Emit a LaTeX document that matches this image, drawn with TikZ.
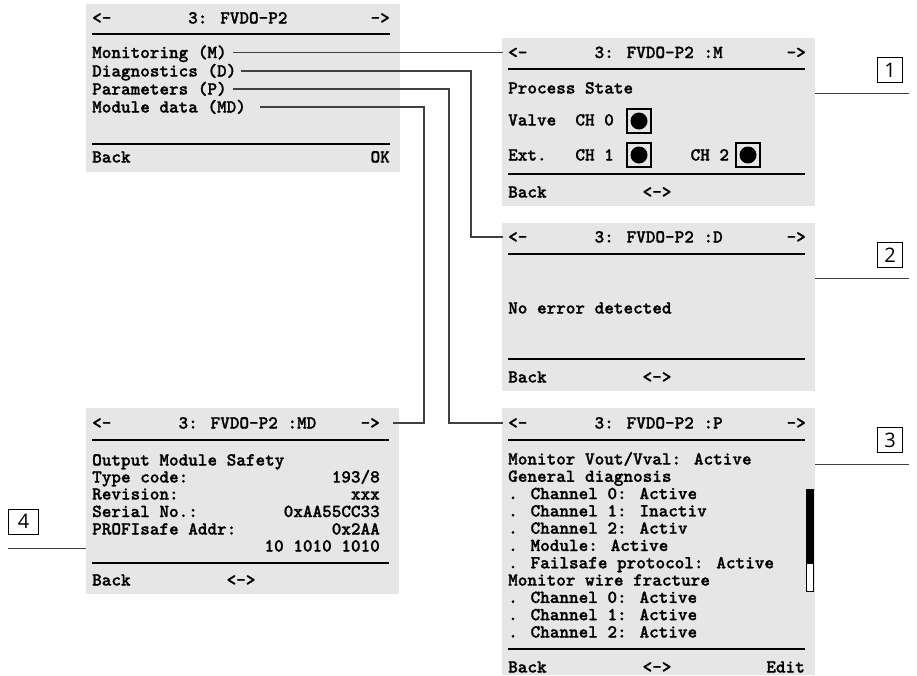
\documentclass[tikz,border=0pt]{standalone}
\usepackage{fontspec}
\newfontfamily\numfont{Open Sans}
\IfFontExistsTF{lmmonolt10-bold.otf}
  {\newfontfamily\lcdfont{lmmonolt10-bold.otf}[FakeBold=1.2]}
  {\newfontfamily\lcdfont{Latin Modern Mono}[FakeBold=2]}
\newcommand\curfont{\lcdfont\fontsize{18.3}{18.3}\selectfont}
\definecolor{scrgray}{HTML}{E6E6E6}
\definecolor{conncol}{HTML}{404040}
\begin{document}
\begin{tikzpicture}[x=1pt,y=-1pt,
  scr/.style={fill=scrgray, draw=none},
  txt/.style={font=\curfont, inner sep=0pt, anchor=base west, yshift=-5.5pt},
  rtxt/.style={txt, anchor=base east},
  sep/.style={line width=1.5pt},
  conn/.style={line width=1.1pt, draw=conncol},
  cline/.style={line width=1pt, draw=conncol},
  chk/.style={draw, line width=1.2pt, minimum size=24pt, inner sep=0pt,
    path picture={\fill (path picture bounding box.center) circle (8.5pt);}},
  callbox/.style={draw, line width=0.9pt, minimum width=25pt, minimum height=25pt, inner sep=0pt,
    font=\numfont\fontsize{20}{20}\selectfont}]
\useasboundingbox (0,0) rectangle (917,675);

% ---------- main menu ----------
\fill[scr] (86,4) rectangle (400,172);
\node[txt] (tl-l) at (92,18) {<-};
\node[txt] (tl-t) at (188,18) {3: FVDO-P2};
\node[rtxt] (tl-r) at (390,18) {->};
\draw[sep] (92,34) -- (390,34);
\node[txt] (mon) at (92,52.5) {Monitoring (M)};
\node[txt] (dia) at (92,71) {Diagnostics (D)};
\node[txt] (par) at (92,89) {Parameters (P)};
\node[txt] (mod) at (92,107) {Module data (MD)};
\draw[sep] (92,144) -- (390,144);
\node[txt] (tl-back) at (92,157) {Back};
\node[rtxt] (tl-ok) at (390,157) {OK};

% ---------- M screen ----------
\fill[scr] (502,38) rectangle (815,206);
\node[txt] (m-l) at (508,52.5) {<-};
\node[txt] (m-t) at (594.4,52.5) {3: FVDO-P2 :M};
\node[rtxt] (m-r) at (806,52.5) {->};
\draw[sep] (508,69) -- (805,69);
\node[txt] (m-ps) at (508,88) {Process State};
\node[txt] (m-valve) at (508,120) {Valve};
\node[txt] (m-ch0) at (575.2,120) {CH 0};
\node[chk] (m-b0) at (639,121) {};
\node[txt] (m-ext) at (508,155) {Ext.};
\node[txt] (m-ch1) at (575.2,155) {CH 1};
\node[chk] (m-b1) at (639,155) {};
\node[txt] (m-ch2) at (690.4,155) {CH 2};
\node[chk] (m-b2) at (748,155) {};
\draw[sep] (508,174) -- (805,174);
\node[txt] (m-back) at (508,192) {Back};
\node[txt] (m-nav) at (642.4,192) {<->};

% ---------- D screen ----------
\fill[scr] (502,223) rectangle (815,391);
\node[txt] (d-l) at (508,237) {<-};
\node[txt] (d-t) at (594.4,237) {3: FVDO-P2 :D};
\node[rtxt] (d-r) at (806,237) {->};
\draw[sep] (508,254) -- (805,254);
\node[txt] (d-msg) at (508,308) {No error detected};
\draw[sep] (508,359) -- (805,359);
\node[txt] (d-back) at (508,377) {Back};
\node[txt] (d-nav) at (642.4,377) {<->};

% ---------- MD screen ----------
\fill[scr] (86,408) rectangle (399,594);
\node[txt] (md-l) at (92,423) {<-};
\node[txt] (md-t) at (178.4,423) {3: FVDO-P2 :MD};
\node[rtxt] (md-r) at (380,423) {->};
\draw[sep] (92,440) -- (389,440);
\node[txt] (md-1) at (92,460) {Output Module Safety};
\node[txt] (md-2) at (92,477) {Type code:};
\node[rtxt] (md-2v) at (380,477) {193/8};
\node[txt] (md-3) at (92,494) {Revision:};
\node[rtxt] (md-3v) at (380,494) {xxx};
\node[txt] (md-4) at (92,511.5) {Serial No.:};
\node[rtxt] (md-4v) at (380,511.5) {0xAA55CC33};
\node[txt] (md-5) at (92,529) {PROFIsafe Addr:};
\node[rtxt] (md-5v) at (380,529) {0x2AA};
\node[rtxt] (md-6v) at (380,546) {10 1010 1010};
\draw[sep] (92,563) -- (389,563);
\node[txt] (md-back) at (92,580) {Back};
\node[txt] (md-nav) at (226.4,580) {<->};

% ---------- P screen ----------
\fill[scr] (502,408) rectangle (815,675);
\node[txt] (p-l) at (508,423) {<-};
\node[txt] (p-t) at (594.4,423) {3: FVDO-P2 :P};
\node[rtxt] (p-r) at (806,423) {->};
\draw[sep] (508,440) -- (805,440);
\node[txt] (p-1) at (508,459) {Monitor Vout/Vval: Active};
\node[txt] (p-2) at (508,476.3) {General diagnosis};
\node[txt] (p-3) at (508,493.6) {. Channel 0: Active};
\node[txt] (p-4) at (508,510.9) {. Channel 1: Inactiv};
\node[txt] (p-5) at (508,528.2) {. Channel 2: Activ};
\node[txt] (p-6) at (508,545.5) {. Module: Active};
\node[txt] (p-7) at (508,562.8) {. Failsafe protocol: Active};
\node[txt] (p-8) at (508,580.1) {Monitor wire fracture};
\node[txt] (p-9) at (508,597.4) {. Channel 0: Active};
\node[txt] (p-10) at (508,614.7) {. Channel 1: Active};
\node[txt] (p-11) at (508,632) {. Channel 2: Active};
\draw[sep] (508,649) -- (805,649);
\node[txt] (p-back) at (508,667) {Back};
\node[txt] (p-nav) at (642.4,667) {<->};
\node[rtxt] (p-edit) at (805,667) {Edit};
% scroll bar
\draw[line width=1pt, fill=white] (806.5,489) rectangle (813.5,591.5);
\fill (806,489) rectangle (814,564);

% ---------- connectors ----------
\coordinate (dv) at (471,0);
\coordinate (pv) at (449,0);
\coordinate (mdv) at (424,0);
\coordinate (mon-e) at (233,52.5);
\coordinate (dia-e) at (241,71);
\coordinate (par-e) at (233,89);
\coordinate (mod-e) at (260,107);
\coordinate (m-in) at (503,52.5);
\coordinate (d-in) at (503,237);
\coordinate (p-in) at (503,423);
\coordinate (md-in) at (393,423);
\draw[conn] (mon-e) -- (m-in);
\draw[conn] (dia-e) -| (dv |- d-in) -- (d-in);
\draw[conn] (par-e) -| (pv |- p-in) -- (p-in);
\draw[conn] (mod-e) -| (mdv |- md-in) -- (md-in);

% ---------- callouts ----------
\node[callbox] (c1) at (890,70) {1};
\node[callbox] (c2) at (890,255) {2};
\node[callbox] (c3) at (890,440) {3};
\node[callbox, minimum width=30pt] (c4) at (23.5,521.5) {4};
\coordinate (c1a) at (815,93);  \coordinate (c1b) at (909,93);
\coordinate (c2a) at (815,278); \coordinate (c2b) at (909,278);
\coordinate (c3a) at (815,464); \coordinate (c3b) at (909,464);
\coordinate (c4a) at (8,548.5); \coordinate (c4b) at (86,548.5);
\draw[cline] (c1a) -- (c1b);
\draw[cline] (c2a) -- (c2b);
\draw[cline] (c3a) -- (c3b);
\draw[cline] (c4a) -- (c4b);
\end{tikzpicture}
\end{document}
